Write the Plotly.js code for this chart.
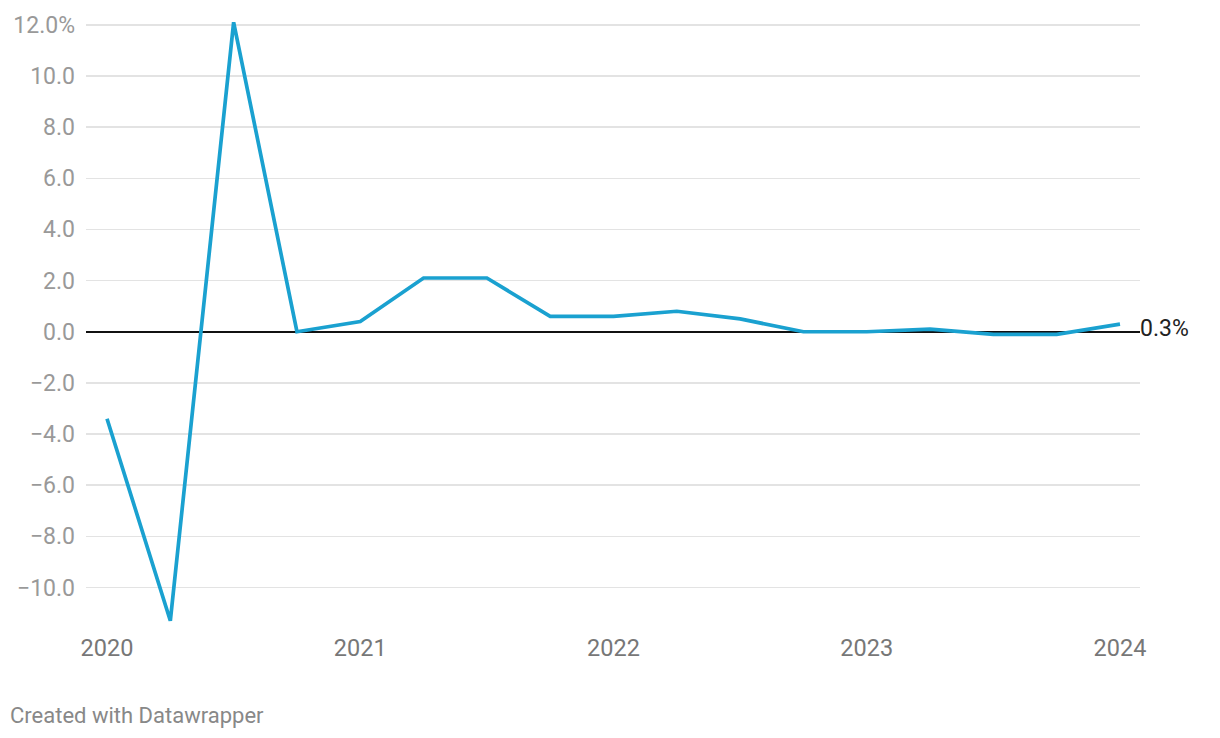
<!DOCTYPE html>
<html>
<head>
<meta charset="utf-8">
<script src="https://cdn.plot.ly/plotly-3.0.1.min.js"></script>
<style>
html,body{margin:0;padding:0;background:#fff;}
#chart{width:1220px;height:738px;}
</style>
</head>
<body>
<div id="chart"></div>
<script>
const quarters = [2020, 2020.25, 2020.5, 2020.75, 2021, 2021.25, 2021.5, 2021.75, 2022, 2022.25, 2022.5, 2022.75, 2023, 2023.25, 2023.5, 2023.75, 2024];
const growth = [-3.4, -11.3, 12.1, 0.0, 0.4, 2.1, 2.1, 0.6, 0.6, 0.8, 0.5, 0.0, 0.0, 0.1, -0.1, -0.1, 0.3];
const yTickVals = [12, 10, 8, 6, 4, 2, 0, -2, -4, -6, -8, -10];
const yTickText = ["12.0%", "10.0", "8.0", "6.0", "4.0", "2.0", "0.0", "\u22122.0", "\u22124.0", "\u22126.0", "\u22128.0", "\u221210.0"];
const xTickVals = [2020, 2021, 2022, 2023, 2024];
const xTickText = ["2020", "2021", "2022", "2023", "2024"];
const lastLabel = "0.3%";
const credit = "Created with Datawrapper";

const data = [{
  x: quarters, y: growth, type: "scatter", mode: "lines",
  line: {color: "#1aa1d0", width: 3.7},
  hoverinfo: "skip"
}];

const layout = {
  width: 1220, height: 738,
  margin: {l: 86, r: 80, t: 21, b: 116},
  paper_bgcolor: "#fff", plot_bgcolor: "#fff",
  showlegend: false,
  font: {family: "Roboto, sans-serif"},
  xaxis: {
    range: [2020 - 0.083, 2024 + 0.079],
    tickvals: xTickVals, ticktext: xTickText,
    showgrid: false, zeroline: false, showline: false,
    ticks: "", ticklabelstandoff: 9,
    tickfont: {size: 23.5, color: "#777777"}
  },
  yaxis: {
    range: [-11.35, 12.15],
    tickvals: yTickVals, ticktext: yTickText,
    showgrid: true, gridcolor: "#e3e3e3", gridwidth: 1.5,
    zeroline: true, zerolinecolor: "#111111", zerolinewidth: 2,
    showline: false, ticks: "", ticklabelstandoff: 10,
    tickfont: {size: 23, color: "#999999"}
  },
  annotations: [
    {x: quarters[quarters.length - 1], y: growth[growth.length - 1], xref: "x", yref: "y",
     text: lastLabel, showarrow: false, xanchor: "left", yanchor: "middle", xshift: 18, yshift: -4,
     font: {size: 23, color: "#222222"}},
    {x: 0, y: 0, xref: "paper", yref: "paper", xanchor: "left", yanchor: "middle",
     text: credit, showarrow: false,
     font: {size: 22, color: "#888888"}}
  ]
};
const plotH = 738 - 21 - 116;
layout.annotations[1].x = (8 - 86) / (1220 - 86 - 80);
layout.annotations[1].y = (738 - 116 - 715) / plotH;

Plotly.newPlot("chart", data, layout, {displayModeBar: false, staticPlot: true});
</script>
</body>
</html>
